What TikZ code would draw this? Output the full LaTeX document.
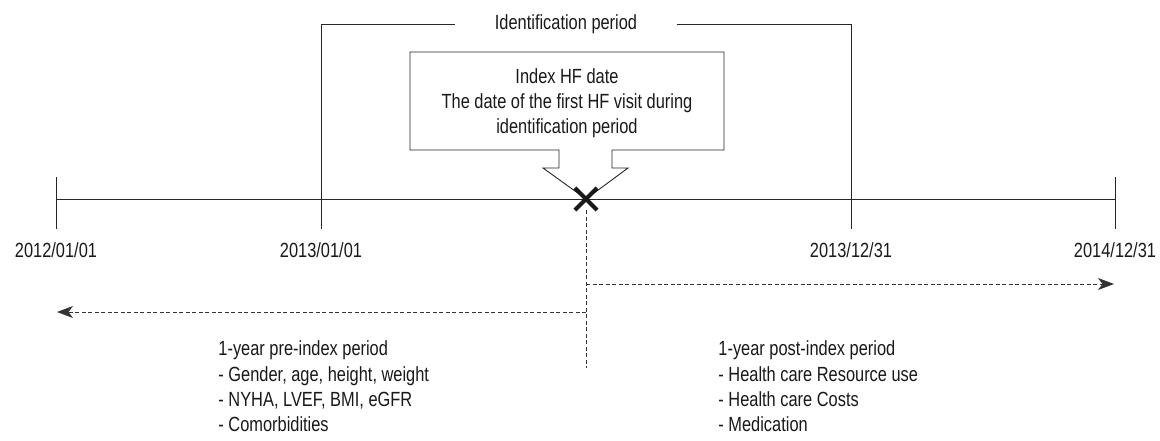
\documentclass[tikz,border=0pt]{standalone}
\usepackage{fontspec}
\setmainfont{Liberation Sans}[FakeStretch=0.8]
\usetikzlibrary{arrows.meta,shapes.misc}

\begin{document}
\begin{tikzpicture}[x=1pt,y=-1pt,line width=0.9pt]
              \tikzstyle{every node}+=[inner sep=0pt,text=black!90,font=\fontsize{20.5}{25}\selectfont]
              \tikzstyle{datelbl}=[anchor=base]
              \tikzstyle{listline}=[anchor=base west]
              \tikzstyle{period}=[draw=black!80,dash pattern=on 4pt off 2.5pt]
              \tikzstyle{periodarrow}=[period,-{Stealth[length=16pt,width=12pt,inset=4.5pt]}]
              \useasboundingbox (0,0) rectangle (1160,440);
              % time axis
              \coordinate (d12) at (56,199);
              \coordinate (d13a) at (321,199);
              \coordinate (d13b) at (851,199);
              \coordinate (d14) at (1115,199);
              \coordinate (idx) at (586,199);
              \draw [black!85] (d12) -- (d14);
              \draw [black!85] (56,177) -- (56,229);
              \draw [black!85] (1115,177) -- (1115,229);
              \node [datelbl] (lbl12) at (56,257) {2012/01/01};
              \node [datelbl] (lbl13a) at (321,257) {2013/01/01};
              \node [datelbl] (lbl13b) at (851,257) {2013/12/31};
              \node [datelbl] (lbl14) at (1115,257) {2014/12/31};
              % identification period bracket
              \node (ident) at (566,24) {Identification period};
              \draw [black!85] (321,229) -- (321,24) -- (455,24);
              \draw [black!85] (677,24) -- (851,24) -- (851,229);
              % callout box
              \draw [black!85] (410,150) -- (559,150) -- (559,168) -- (543,168) -- (idx)
                -- (628,168) -- (612,168) -- (612,150) -- (724,150) -- (724,52) -- (410,52) -- cycle;
              \node [anchor=base] (hf1) at (567,83) {Index HF date};
              \node [anchor=base] (hf2) at (567,108) {The date of the first HF visit during};
              \node [anchor=base] (hf3) at (567,133) {identification period};
              \node [cross out,draw=black!90,line width=4.2pt,minimum size=18pt] (xmark) at (idx) {};
              % pre and post index periods
              \coordinate (vend) at (586,368);
              \coordinate (postL) at (586,284);
              \coordinate (postR) at (1114,284);
              \coordinate (preR) at (586,312);
              \coordinate (preL) at (57,312);
              \draw [period] (xmark.south) -- (vend);
              \draw [periodarrow] (postL) -- (postR);
              \draw [periodarrow] (preR) -- (preL);
              \node [listline] (pre1) at (218,355) {1-year pre-index period};
              \node [listline] (pre2) at (218,381) {- Gender, age, height, weight};
              \node [listline] (pre3) at (218,406) {- NYHA, LVEF, BMI, eGFR};
              \node [listline] (pre4) at (218,431) {- Comorbidities};
              \node [listline] (post1) at (718,355) {1-year post-index period};
              \node [listline] (post2) at (718,381) {- Health care Resource use};
              \node [listline] (post3) at (718,406) {- Health care Costs};
              \node [listline] (post4) at (718,431) {- Medication};
            \end{tikzpicture}
\end{document}
